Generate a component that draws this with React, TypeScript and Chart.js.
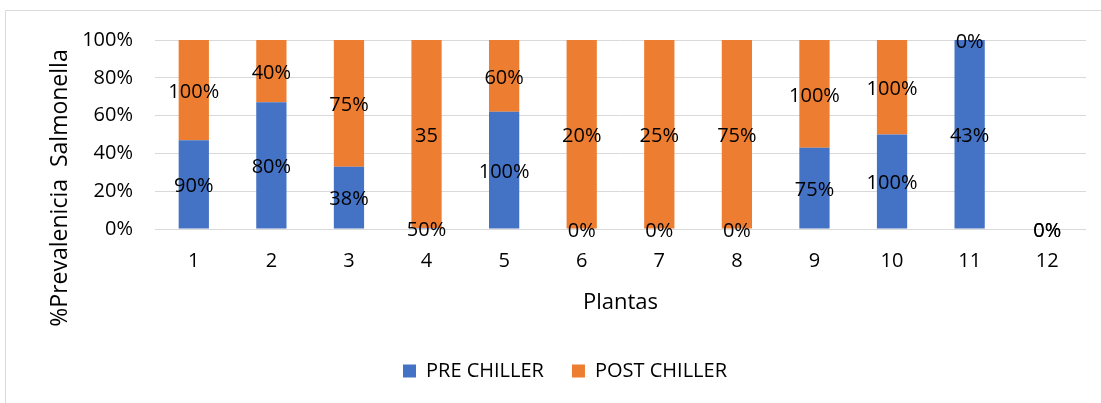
import React, { useEffect, useRef } from "react";
import { Chart, registerables } from "chart.js";

Chart.register(...registerables);

const plantas = ["1", "2", "3", "4", "5", "6", "7", "8", "9", "10", "11", "12"];
const preChiller = [47, 67, 33, 0.5, 62, 0, 0, 0, 43, 50, 100, 0];
const postChiller = [53, 33, 67, 99.5, 38, 100, 100, 100, 57, 50, 0, 0];
const preLabels = ["90%", "80%", "38%", "50%", "100%", "0%", "0%", "0%", "75%", "100%", "43%", "0%"];
const postLabels = ["100%", "40%", "75%", "35", "60%", "20%", "25%", "75%", "100%", "100%", "0%", "0%"];
const yTicks = [0, 20, 40, 60, 80, 100];

const FONT = "'Open Sans', sans-serif";

const decor = {
  id: "decor",
  beforeDraw(chart: any) {
    const ctx = chart.ctx;
    ctx.save();
    ctx.strokeStyle = "#d9d9d9";
    ctx.lineWidth = 1;
    ctx.beginPath();
    ctx.moveTo(5.5, 403);
    ctx.lineTo(5.5, 10.5);
    ctx.lineTo(1101, 10.5);
    ctx.stroke();
    ctx.restore();
  },
  afterDatasetsDraw(chart: any) {
    const ctx = chart.ctx;
    const labelSets = [preLabels, postLabels];
    ctx.save();
    ctx.font = `20px ${FONT}`;
    ctx.fillStyle = "#000";
    ctx.textAlign = "center";
    ctx.textBaseline = "middle";
    chart.data.datasets.forEach((_ds: any, di: number) => {
      const meta = chart.getDatasetMeta(di);
      meta.data.forEach((bar: any, i: number) => {
        const y = (bar.y + bar.base) / 2 + 2;
        ctx.fillText(labelSets[di][i], bar.x, y);
      });
    });
    // y axis title
    ctx.translate(60, 188);
    ctx.rotate(-Math.PI / 2);
    ctx.font = `23px ${FONT}`;
    ctx.fillText("%Prevalenicia  Salmonella", 0, 0);
    ctx.restore();
  },
};

export default function App() {
  const ref = useRef<HTMLCanvasElement | null>(null);
  useEffect(() => {
    if (!ref.current) return;
    const chart = new Chart(ref.current, {
      type: "bar",
      data: {
        labels: plantas,
        datasets: [
          { label: "PRE CHILLER", data: preChiller, backgroundColor: "#4472C4", categoryPercentage: 1, barPercentage: 0.39 },
          { label: "POST CHILLER", data: postChiller, backgroundColor: "#ED7D31", categoryPercentage: 1, barPercentage: 0.39 },
        ],
      },
      options: {
        responsive: false,
        animation: false,
        devicePixelRatio: 1,
        layout: { padding: { left: 44, top: 40, right: 15, bottom: 12 } },
        plugins: {
          legend: {
            position: "bottom",
            labels: {
              boxWidth: 13,
              boxHeight: 13,
              padding: 28,
              color: "#000",
              font: { family: FONT, size: 20 },
            },
          },
          tooltip: { enabled: false },
        },
        scales: {
          x: {
            stacked: true,
            grid: { display: false, drawTicks: false },
            border: { display: false },
            ticks: { color: "#000", padding: 20, font: { family: FONT, size: 20 } },
            title: {
              display: true,
              text: "Plantas",
              color: "#000",
              font: { family: FONT, size: 22 },
              padding: { top: 0, bottom: 17 },
            },
            afterFit: (s: any) => {
              s.height = 104;
            },
          },
          y: {
            stacked: true,
            min: 0,
            max: 100,
            afterBuildTicks: (s: any) => {
              s.ticks = yTicks.map((v) => ({ value: v }));
            },
            grid: { color: "#d9d9d9", drawTicks: false },
            border: { display: false },
            ticks: {
              color: "#000",
              padding: 22,
              font: { family: FONT, size: 20 },
              callback: (v: any) => v + "%",
            },
            afterFit: (s: any) => {
              s.width = 111;
            },
          },
        },
      },
      plugins: [decor],
    });
    return () => chart.destroy();
  }, []);
  return (
    <div style={{ position: "absolute", left: 0, top: 0, width: 1101, height: 403 }}>
      <canvas ref={ref} width={1101} height={403} />
    </div>
  );
}
